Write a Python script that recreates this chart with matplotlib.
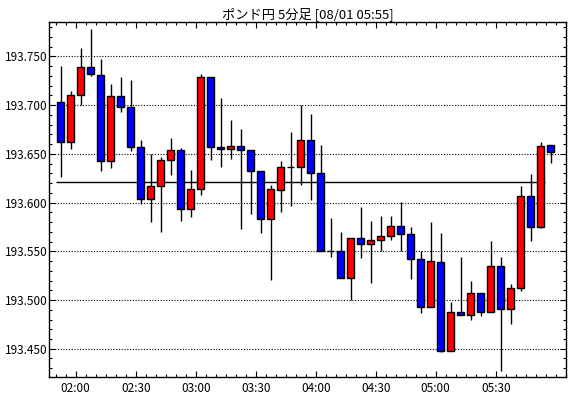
import matplotlib
matplotlib.use("Agg")
import matplotlib.pyplot as plt
from matplotlib.ticker import MultipleLocator, FixedLocator, FixedFormatter

plt.rcParams['font.family'] = ['Noto Sans CJK JP', 'DejaVu Sans']

title = 'ポンド円 5分足 [08/01 05:55]'

# first bar starts 01:50, one bar every 5 minutes
start_minute = 110
bar_minutes = 5

opens = [193.703, 193.662, 193.710, 193.739, 193.731, 193.643, 193.709, 193.698,
         193.657, 193.604, 193.617, 193.644, 193.654, 193.593, 193.614, 193.729,
         193.657, 193.655, 193.658, 193.654, 193.632, 193.583, 193.613, 193.637,
         193.636, 193.664, 193.630, 193.550, 193.550, 193.523, 193.564, 193.557,
         193.562, 193.566, 193.576, 193.568, 193.542, 193.493, 193.539, 193.448,
         193.488, 193.485, 193.507, 193.488, 193.535, 193.491, 193.512, 193.607,
         193.575, 193.659]
highs = [193.740, 193.715, 193.759, 193.778, 193.747, 193.722, 193.729, 193.726,
         193.664, 193.650, 193.647, 193.666, 193.656, 193.633, 193.732, 193.729,
         193.707, 193.685, 193.676, 193.654, 193.632, 193.618, 193.643, 193.672,
         193.700, 193.691, 193.659, 193.584, 193.570, 193.564, 193.595, 193.581,
         193.586, 193.586, 193.601, 193.575, 193.550, 193.580, 193.569, 193.498,
         193.544, 193.520, 193.507, 193.561, 193.544, 193.516, 193.617, 193.629,
         193.662, 193.659]
lows = [193.626, 193.655, 193.700, 193.730, 193.632, 193.635, 193.693, 193.653,
        193.599, 193.580, 193.570, 193.628, 193.581, 193.585, 193.608, 193.644,
        193.637, 193.645, 193.573, 193.588, 193.569, 193.521, 193.590, 193.596,
        193.618, 193.603, 193.550, 193.544, 193.523, 193.500, 193.543, 193.517,
        193.550, 193.562, 193.550, 193.522, 193.487, 193.493, 193.447, 193.448,
        193.485, 193.479, 193.484, 193.488, 193.427, 193.475, 193.509, 193.561,
        193.574, 193.641]
closes = [193.662, 193.710, 193.739, 193.732, 193.643, 193.709, 193.698, 193.657,
          193.604, 193.617, 193.644, 193.654, 193.593, 193.614, 193.729, 193.657,
          193.655, 193.658, 193.654, 193.632, 193.583, 193.614, 193.637, 193.637,
          193.664, 193.630, 193.550, 193.550, 193.523, 193.564, 193.557, 193.562,
          193.566, 193.576, 193.568, 193.542, 193.493, 193.540, 193.448, 193.488,
          193.485, 193.507, 193.488, 193.535, 193.491, 193.512, 193.607, 193.575,
          193.658, 193.652]

base_price = 193.621
time_ticks = [120, 150, 180, 210, 240, 270, 300, 330]
time_labels = ['02:00', '02:30', '03:00', '03:30', '04:00', '04:30', '05:00', '05:30']

fig = plt.figure(figsize=(5.7, 3.98), dpi=100)
ax = fig.add_axes([49.3 / 570, 21 / 398, (565.7 - 49.3) / 570, (377 - 22.3) / 398])

centers = [start_minute + bar_minutes * i + bar_minutes / 2 for i in range(len(opens))]
body_w = 3.3

ax.hlines(base_price, centers[0] - 2.6, centers[48] + 2.0, color='black', lw=1.0, zorder=2)

for x, o, h, l, c in zip(centers, opens, highs, lows, closes):
    color = '#ff0000' if c > o else '#0000ff'
    ax.vlines(x, l, h, color='black', lw=1.0, zorder=3)
    ax.bar(x, c - o, bottom=o, width=body_w, color=color, edgecolor='black',
           linewidth=1.0, zorder=4)

ax.set_xlim(106.8, 365)
ax.set_ylim(193.421, 193.785)

ax.yaxis.set_major_locator(MultipleLocator(0.05))
ax.yaxis.set_minor_locator(MultipleLocator(0.01))
ax.yaxis.set_major_formatter(plt.FuncFormatter(lambda v, p: f'{v:.3f}'))
ax.xaxis.set_major_locator(FixedLocator(time_ticks))
ax.xaxis.set_major_formatter(FixedFormatter(time_labels))
ax.xaxis.set_minor_locator(MultipleLocator(5))

ax.grid(axis='y', which='major', color='black', linestyle=(0, (1, 1.5)), lw=0.8, zorder=1)
ax.set_axisbelow(True)

ax.tick_params(which='both', direction='in', top=True, right=True, color='black',
               labelsize=8.5, width=0.8)
ax.tick_params(which='major', length=4)
ax.tick_params(which='minor', length=2.2)
ax.tick_params(axis='y', pad=1.5)
ax.tick_params(axis='x', pad=3.5)
for s in ax.spines.values():
    s.set_linewidth(1.0)

ax.set_title(title, fontsize=9.5, pad=3)

fig.savefig('out.png', dpi=100, facecolor='white')
